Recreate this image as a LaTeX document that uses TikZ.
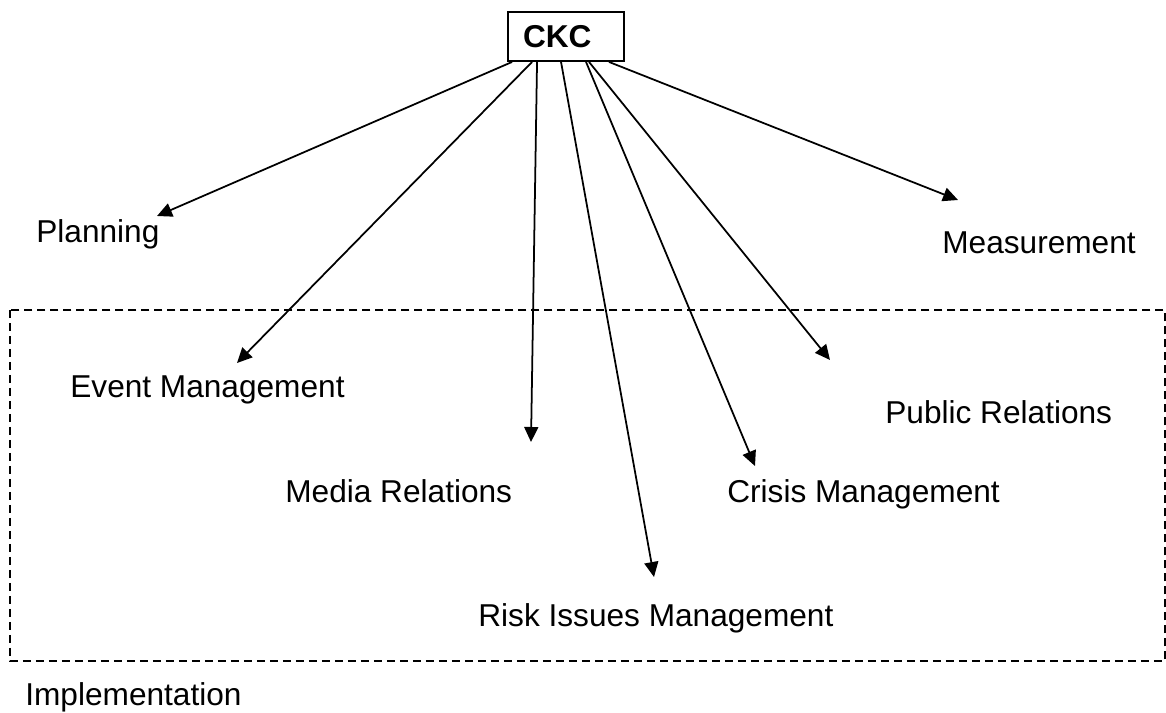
\documentclass[tikz,border=0pt]{standalone}
\usepackage{fontspec}
\setmainfont{Liberation Sans}
\usetikzlibrary{arrows.meta}

\begin{document}
\begin{tikzpicture}[x=0.02cm, y=-0.02cm,
  every node/.style={font=\fontsize{18}{21}\selectfont, inner sep=0pt},
  lbl/.style={anchor=base west},
  link/.style={line width=1pt, -{Triangle[length=0.3cm, width=0.28cm]}},
  area/.style={line width=0.6pt, dash pattern=on 0.16cm off 0.1cm}]
\useasboundingbox (0,0) rectangle (1166,713);
% top box
\node[draw, line width=1.1pt, inner xsep=0.3cm, text width=1.72cm, align=left,
  minimum height=0.98cm, font=\fontsize{18}{21}\selectfont\bfseries] (ckc) at (566,36.5) {CKC};
% implementation area
\draw[area] (10,310) rectangle (1165,661);
% labels
\node[lbl] (plan) at (36,242) {Planning};
\node[lbl] (meas) at (942,253) {Measurement};
\node[lbl] (event) at (70,397) {Event Management};
\node[lbl] (pr) at (885,423) {Public Relations};
\node[lbl] (media) at (285,502) {Media Relations};
\node[lbl] (crisis) at (727,502) {Crisis Management};
\node[lbl] (risk) at (478,626) {Risk Issues Management};
\node[lbl] (impl) at (25,705) {Implementation};
% arrow tips
\coordinate (tplan) at (157,216);
\coordinate (tevent) at (237,363);
\coordinate (tmedia) at (531,442);
\coordinate (trisk) at (654,577);
\coordinate (tcrisis) at (755,466);
\coordinate (tpr) at (830,360);
\coordinate (tmeas) at (958,200);
% arrows
\draw[link] ([xshift=0.1cm]ckc.south west) -- (tplan);
\draw[link] ([xshift=0.5cm]ckc.south west) -- (tevent);
\draw[link] ([xshift=0.6cm]ckc.south west) -- (tmedia);
\draw[link] ([xshift=1.08cm]ckc.south west) -- (trisk);
\draw[link] ([xshift=1.58cm]ckc.south west) -- (tcrisis);
\draw[link] ([xshift=1.64cm]ckc.south west) -- (tpr);
\draw[link] ([xshift=2.04cm]ckc.south west) -- (tmeas);
\end{tikzpicture}
\end{document}
